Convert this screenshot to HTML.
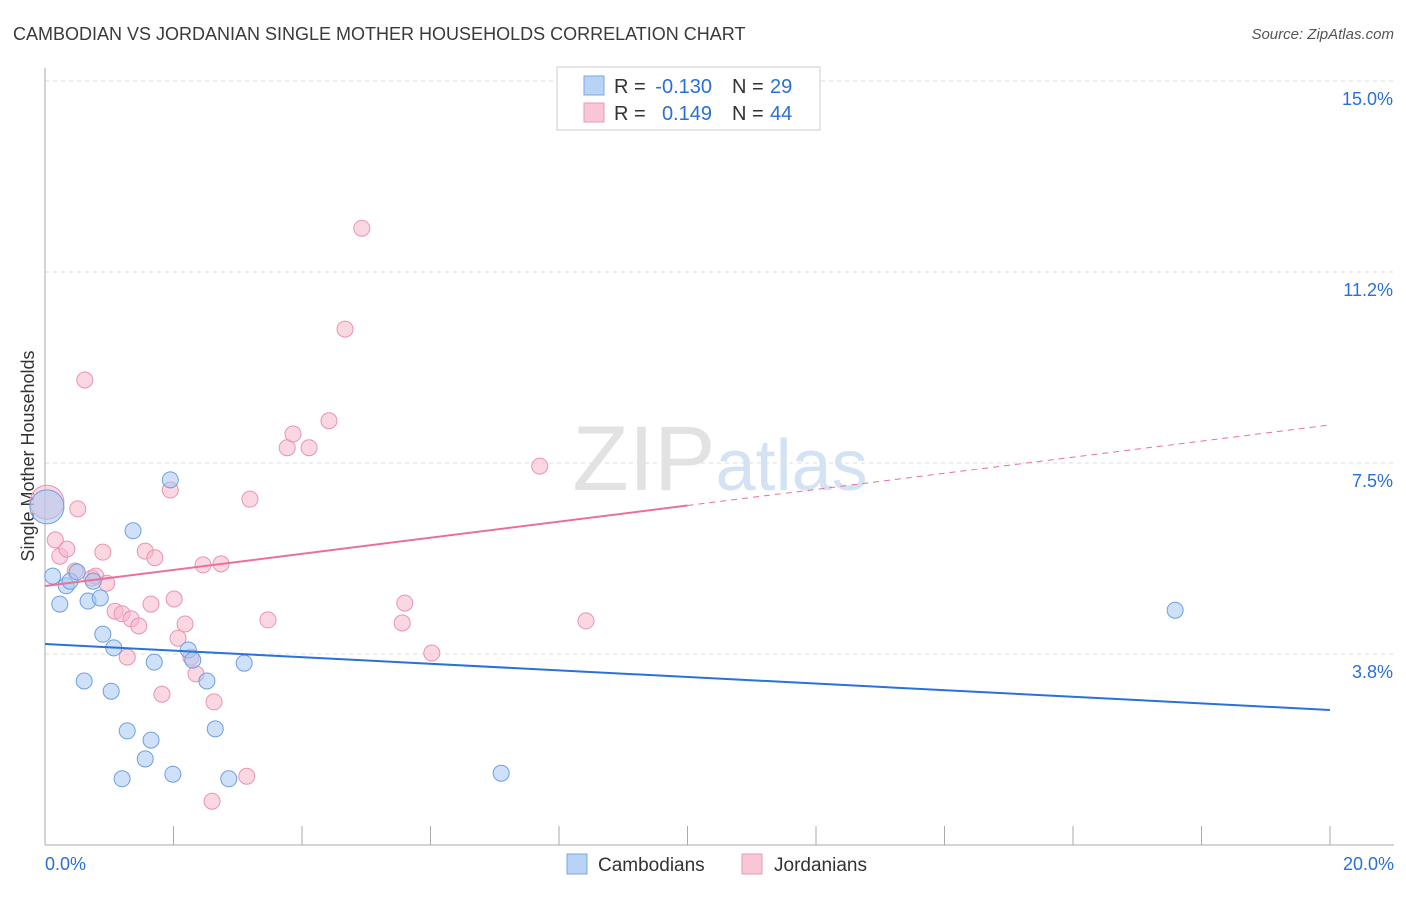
<!DOCTYPE html>
<html><head><meta charset="utf-8"><style>
body{margin:0;background:#fff;font-family:"Liberation Sans",sans-serif;}
svg text{font-family:"Liberation Sans",sans-serif;}
</style></head><body>
<svg id="chart" width="1406" height="892" xmlns="http://www.w3.org/2000/svg">
<text x="13" y="40" font-size="18" fill="#3a3a3a">CAMBODIAN VS JORDANIAN SINGLE MOTHER HOUSEHOLDS CORRELATION CHART</text>
<text x="1394" y="39" font-size="15" fill="#555" text-anchor="end" font-style="italic">Source: ZipAtlas.com</text>
<g id="grid"></g>
<text x="720" y="490" font-size="92" text-anchor="middle" fill="#e2e2e2" font-family="Liberation Serif"><tspan>ZIP</tspan><tspan fill="#d4e3f4" font-family="Liberation Sans" font-size="72">atlas</tspan></text>
<text transform="translate(34,456) rotate(-90)" font-size="18" fill="#333" text-anchor="middle">Single Mother Households</text>
<g id="marks"></g>
<g>
<rect x="557" y="67" width="263" height="63" fill="#fff" stroke="#ccc"/>
<rect x="584" y="76" width="20" height="19" fill="#b8d3f5" stroke="#7aa8e3"/>
<rect x="584" y="103" width="20" height="19" fill="#f9c6d6" stroke="#eb9bb6"/>
<text x="614" y="93" font-size="20" fill="#333">R =</text>
<text x="712" y="93" font-size="20" fill="#2a6fd6" text-anchor="end">-0.130</text>
<text x="732" y="93" font-size="20" fill="#333">N =</text>
<text x="770" y="93" font-size="20" fill="#2a6fd6">29</text>
<text x="614" y="120" font-size="20" fill="#333">R =</text>
<text x="712" y="120" font-size="20" fill="#2a6fd6" text-anchor="end">0.149</text>
<text x="732" y="120" font-size="20" fill="#333">N =</text>
<text x="770" y="120" font-size="20" fill="#2a6fd6">44</text>
</g>
<g>
<rect x="567" y="854" width="20" height="20" fill="#b8d3f5" stroke="#7aa8e3"/>
<text x="598" y="871" font-size="19" fill="#333">Cambodians</text>
<rect x="742" y="854" width="20" height="20" fill="#f9c6d6" stroke="#eb9bb6"/>
<text x="774" y="871" font-size="19" fill="#333">Jordanians</text>
</g>
</svg>
<script>
const xTicks=[0,2,4,6,8,10,12,14,16,18,20];
const yTicks=[3.75,7.5,11.25,15];
const yTickLabels=["3.8%","7.5%","11.2%","15.0%"];
const xTickLabels=["0.0%","20.0%"];
const camX=[0.03,0.12,0.23,0.33,0.39,0.50,0.67,0.86,0.75,0.90,1.07,0.61,1.03,1.37,1.28,1.20,1.56,1.65,1.70,1.95,1.99,2.23,2.30,2.52,2.65,2.86,3.10,7.10,17.59];
const camY=[6.64,5.28,4.73,5.09,5.18,5.36,4.79,4.85,5.18,4.14,3.87,3.22,3.02,6.17,2.24,1.30,1.69,2.06,3.59,7.17,1.39,3.83,3.63,3.22,2.28,1.30,3.57,1.41,4.61];
const jorX=[0.03,0.16,0.23,0.34,0.47,0.51,0.62,0.73,0.79,0.90,0.96,1.09,1.20,1.28,1.34,1.46,1.56,1.65,1.71,1.82,1.95,2.01,2.07,2.18,2.27,2.35,2.46,2.60,2.63,2.74,3.14,3.19,3.47,3.77,3.86,4.11,4.42,4.67,4.93,5.56,5.60,6.02,7.70,8.42];
const jorY=[6.73,5.99,5.67,5.81,5.38,6.60,9.13,5.24,5.28,5.75,5.14,4.59,4.54,3.69,4.44,4.30,5.77,4.73,5.64,2.96,6.97,4.83,4.06,4.34,3.69,3.36,5.50,0.86,2.81,5.52,1.35,6.79,4.42,7.80,8.07,7.80,8.33,10.13,12.11,4.36,4.75,3.77,7.44,4.40];
const camTrend=[3.947,2.651];
const jorTrend=[5.085,8.247];
const NS="http://www.w3.org/2000/svg";
const X=v=>45+v*64.25, Y=v=>845-v*50.93;
function mk(tag,attrs,parent){const e=document.createElementNS(NS,tag);for(const k in attrs)e.setAttribute(k,attrs[k]);parent.appendChild(e);return e;}
const grid=document.getElementById('grid'), marks=document.getElementById('marks');
yTicks.forEach((t,i)=>{
 const l=mk('line',{x1:45,x2:1394,y1:Y(t),y2:Y(t),stroke:'#ddd','stroke-dasharray':'4,4'},grid);
 
 
 const tx=mk('text',{x:1393,y:Y(t)+24,'font-size':18,fill:'#2a6fd6','text-anchor':'end'},grid);
 tx.textContent=yTickLabels[i];
 
 
});
const ax=mk('line',{x1:45,x2:45,y1:68,y2:845,stroke:'#aaa'},grid);


const bx=mk('line',{x1:45,x2:1394,y1:845,y2:845,stroke:'#aaa'},grid);


xTicks.forEach(t=>{
 const l=mk('line',{x1:X(t),x2:X(t),y1:826,y2:845,stroke:'#aaa'},grid);
 
 
});
[[0,'start',45],[20,'end',1394]].forEach((d,i)=>{
 const tx=mk('text',{x:d[2],y:870,'font-size':18,fill:'#2a6fd6','text-anchor':d[1]},grid);
 tx.textContent=xTickLabels[i];
 
 
});
function pts(xs,ys,fill,stroke,name){
 xs.forEach((x,i)=>{
  const c=mk('circle',{cx:X(x),cy:Y(ys[i]),r:i===0?17:8,fill:fill,'fill-opacity':0.55,stroke:stroke,'stroke-width':1},marks);
  
  
 });
}
pts(jorX,jorY,'#f7b7cb','#e994b1','jordanian-point');
pts(camX,camY,'#a8c8f2','#6e9fe0','cambodian-point');
const bl=mk('line',{x1:X(0),y1:Y(camTrend[0]),x2:X(20),y2:Y(camTrend[1]),stroke:'#2a72d6','stroke-width':2},marks);


const mid=(jorTrend[0]+jorTrend[1])/2;
const pl=mk('line',{x1:X(0),y1:Y(jorTrend[0]),x2:X(10),y2:Y(mid),stroke:'#e8709a','stroke-width':2},marks);


const pd=mk('line',{x1:X(10),y1:Y(mid),x2:X(20),y2:Y(jorTrend[1]),stroke:'#e8709a','stroke-width':1,'stroke-dasharray':'6,5'},marks);


</script>
</body></html>
